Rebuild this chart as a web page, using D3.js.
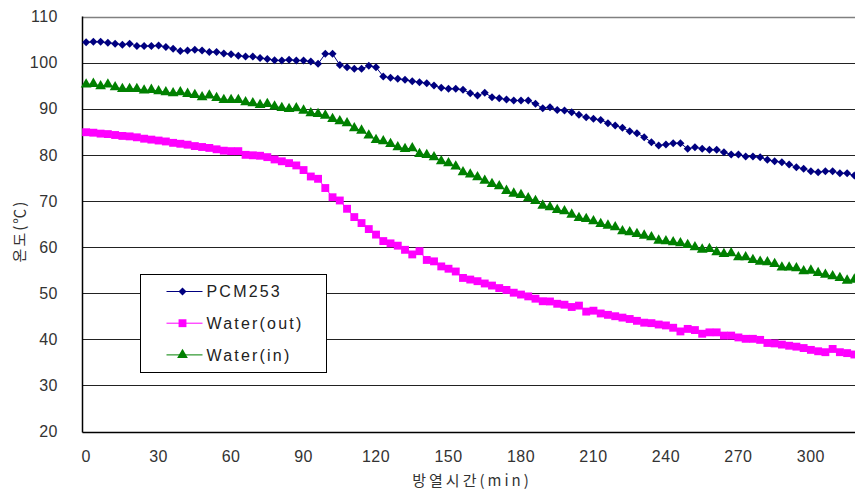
<!DOCTYPE html>
<html>
<head>
<meta charset="utf-8">
<script src="https://cdn.jsdelivr.net/npm/d3@7"></script>
<style>
  body { margin: 0; background: #fff; }
  svg { display: block; }
</style>
</head>
<body>
<div id="chart"></div>
<script>
// Cooling test: temperature of PCM and water vs time (every 3 min)

var seriesNames = ["PCM253", "Water(out)", "Water(in)"];
var seriesColors = ["#000080", "#ff00ff", "#008000"];
var yTicks = [20, 30, 40, 50, 60, 70, 80, 90, 100, 110];
var xTicks = [0, 30, 60, 90, 120, 150, 180, 210, 240, 270, 300];
var timeStep = 3;

var pcm253 = [
  104.4, 104.5, 104.5, 104.3, 104.1, 103.9, 104.1, 103.6, 103.6, 103.6,
  103.7, 103.4, 103.0, 102.5, 102.6, 102.8, 102.6, 102.3, 102.3, 102.0,
  101.8, 101.5, 101.3, 101.3, 101.0, 100.8, 100.5,
  100.46, 100.6, 100.46, 100.46, 100.24, 99.73, 101.9, 101.9, 99.5, 99.0,
  98.65, 98.65, 99.3, 99.0, 97.0, 96.7, 96.5, 96.26, 95.97, 95.75,
  95.54, 95.03, 94.53, 94.31, 94.31, 94.1, 93.37, 92.87, 93.45, 92.5,
  92.28, 92.0, 91.78, 91.78, 91.78, 91.06, 90.1, 90.33, 89.75,
  89.6, 89.25, 88.67, 88.16, 87.8, 87.58, 86.86, 86.36, 85.85, 85.13,
  84.7, 83.83, 82.74, 82.02, 82.23, 82.52, 82.52, 81.3, 81.66, 81.3,
  81.08, 81.08, 80.57, 80.07, 80.07, 79.63, 79.63, 79.49, 78.91, 78.62,
  78.4, 77.9, 77.32, 76.96, 76.45, 76.23, 76.45, 76.45, 76.0, 76.0, 75.5
];

var waterOut = [
  84.9, 84.8, 84.6, 84.5, 84.3, 84.1, 84.0, 83.8, 83.5, 83.3,
  83.1, 82.9, 82.6, 82.4, 82.2, 81.9, 81.7, 81.5, 81.2, 80.9,
  80.8, 80.8, 80.0, 79.9, 79.8, 79.5, 79.0, 78.6,
  78.2, 77.7, 76.7, 75.3, 74.8, 72.8, 70.8, 70.1, 68.3, 66.5,
  65.2, 63.9, 62.7, 61.3, 60.8, 60.3, 59.4, 58.4, 59.1, 57.2,
  56.9, 55.8, 55.3,
  54.7, 53.3, 52.95, 52.6, 52.1, 51.65, 51.1, 50.7, 50.1, 49.7,
  49.3, 48.8, 48.25, 48.2, 47.7, 47.5, 47.0, 47.3, 46.0, 46.2,
  45.6, 45.3, 45.0, 44.7, 44.4, 44.0, 43.6, 43.5, 43.2, 43.0,
  42.5, 41.7, 42.25, 42.0, 41.2, 41.5, 41.5, 40.8, 40.8, 40.4,
  40.1, 40.1, 39.87, 39.2, 39.1, 38.85, 38.6, 38.4, 38.1, 37.7,
  37.4, 37.2, 37.9, 37.2, 37.0, 36.7
];

var waterIn = [
  95.25, 95.4, 94.9, 95.25, 94.67, 94.3, 94.3, 94.3, 93.95, 94.1,
  93.8, 93.59, 93.37, 93.59, 93.23, 93.0, 92.5, 92.87, 92.35, 91.9,
  91.9, 91.9, 91.42, 91.2, 90.83, 91.06, 90.48,
  90.19, 89.97, 90.1, 89.6, 89.03, 88.89, 88.52, 87.8, 87.3, 86.86,
  85.78, 85.27, 84.19, 83.25, 82.96, 82.38, 81.66, 81.3, 81.44, 80.2,
  80.0, 79.49, 78.62, 78.19, 77.47, 76.23, 75.73, 75.15, 74.4, 73.7,
  73.2, 72.2, 71.6, 71.3, 70.6, 70.0, 69.0, 68.64, 68.06,
  67.78, 67.05, 66.33, 66.11, 65.6, 65.03, 64.66, 64.3, 63.43, 63.22,
  62.86, 62.5, 62.14, 61.41, 61.27, 61.05, 60.83, 60.47, 59.96, 59.46,
  59.6, 58.88, 58.52, 58.66, 57.8, 57.8, 57.2, 56.85, 56.7, 56.35,
  55.6, 55.6, 55.4, 54.76, 54.9, 54.4, 54.03, 53.67, 53.3, 52.73, 52.95
];

var allSeries = [pcm253, waterOut, waterIn];
// diamond = square turned 45 degrees
var symbolTypes = [d3.symbolSquare, d3.symbolSquare, d3.symbolTriangle];
var symbolSizes = [32, 62, 50];
var symbolRotate = [45, 0, 0];

var width = 855, height = 492;
var plot = { left: 82.5, top: 16.5, bottom: 431.5, right: 858 };

var latinFont = "'Liberation Sans', Arial, sans-serif";
var koreanFont = "'Noto Sans CJK KR', sans-serif";

var svg = d3.select("#chart").append("svg")
    .attr("width", width)
    .attr("height", height);

var x = d3.scaleLinear()
    .domain([-1.5, 319.5])
    .range([plot.left, plot.right]);

var y = d3.scaleLinear()
    .domain([20, 110])
    .range([plot.bottom, plot.top]);

// Grid lines
svg.append("g")
    .selectAll("line")
    .data(yTicks.filter(function(d) { return d > 20 && d < 110; }))
    .enter().append("line")
    .attr("x1", plot.left)
    .attr("x2", plot.right)
    .attr("y1", function(d) { return Math.round(y(d)) + 0.5; })
    .attr("y2", function(d) { return Math.round(y(d)) + 0.5; })
    .style("stroke", "#222")
    .style("stroke-width", 1);

// Top border
svg.append("line")
    .attr("x1", plot.left)
    .attr("x2", plot.right)
    .attr("y1", Math.round(y(110)) + 0.5)
    .attr("y2", Math.round(y(110)) + 0.5)
    .style("stroke", "#808080")
    .style("stroke-width", 1.5);

// Axes lines
svg.append("line")
    .attr("x1", plot.left)
    .attr("x2", plot.left)
    .attr("y1", y(110))
    .attr("y2", Math.round(y(20)) + 0.5)
    .style("stroke", "#000")
    .style("stroke-width", 1.5);

svg.append("line")
    .attr("x1", plot.left)
    .attr("x2", plot.right)
    .attr("y1", Math.round(y(20)) + 0.5)
    .attr("y2", Math.round(y(20)) + 0.5)
    .style("stroke", "#000")
    .style("stroke-width", 1.5);

// Y tick labels
svg.append("g")
    .selectAll("text")
    .data(yTicks)
    .enter().append("text")
    .attr("x", 58)
    .attr("y", function(d) { return y(d); })
    .attr("dy", "0.36em")
    .attr("text-anchor", "end")
    .style("font-family", latinFont)
    .style("font-size", "16px")
    .style("letter-spacing", "0.5px")
    .style("fill", "#333")
    .text(function(d) { return d; });

// X tick labels
svg.append("g")
    .selectAll("text")
    .data(xTicks)
    .enter().append("text")
    .attr("x", function(d) { return x(d); })
    .attr("y", 462)
    .attr("text-anchor", "middle")
    .style("font-family", latinFont)
    .style("font-size", "16px")
    .style("letter-spacing", "0.5px")
    .style("fill", "#333")
    .text(function(d) { return d; });

// Axis titles
svg.append("text")
    .attr("x", 472)
    .attr("y", 486)
    .attr("text-anchor", "middle")
    .style("font-family", koreanFont)
    .style("font-size", "15px")
    .style("letter-spacing", "3px")
    .style("fill", "#333")
    .text("방열시간(min)");

svg.append("text")
    .attr("transform", "translate(25,231) rotate(-90)")
    .attr("text-anchor", "middle")
    .style("font-family", koreanFont)
    .style("font-size", "15px")
    .style("letter-spacing", "2px")
    .style("fill", "#333")
    .text("온도(℃)");

// Series
var line = d3.line()
    .x(function(d, i) { return x(i * timeStep); })
    .y(function(d) { return y(d); });

var seriesG = svg.append("g")
    .selectAll("g")
    .data(allSeries)
    .enter().append("g");

seriesG.append("path")
    .attr("d", line)
    .style("fill", "none")
    .style("stroke", function(d, i) { return seriesColors[i]; })
    .style("stroke-width", 1);

seriesG.each(function(vals, si) {
  d3.select(this).selectAll("path.marker")
    .data(vals)
    .enter().append("path")
    .attr("class", "marker")
    .attr("d", d3.symbol().type(symbolTypes[si]).size(symbolSizes[si]))
    .attr("transform", function(d, i) {
      return "translate(" + x(i * timeStep) + "," + y(d) + ") rotate(" + symbolRotate[si] + ")";
    })
    .style("fill", seriesColors[si]);
});

// Legend
var legend = svg.append("g")
    .attr("transform", "translate(140.5,274.5)");

legend.append("rect")
    .attr("width", 186)
    .attr("height", 98)
    .style("fill", "#fff")
    .style("stroke", "#000")
    .style("stroke-width", 1);

var legendItem = legend.selectAll("g.item")
    .data(seriesNames)
    .enter().append("g")
    .attr("class", "item")
    .attr("transform", function(d, i) { return "translate(0," + (17 + i * 31.7) + ")"; });

legendItem.append("line")
    .attr("x1", 26)
    .attr("x2", 62)
    .style("stroke", function(d, i) { return seriesColors[i]; })
    .style("stroke-width", 1);

legendItem.append("path")
    .attr("d", function(d, i) { return d3.symbol().type(symbolTypes[i]).size(symbolSizes[i])(); })
    .attr("transform", function(d, i) { return "translate(42,0) rotate(" + symbolRotate[i] + ")"; })
    .style("fill", function(d, i) { return seriesColors[i]; });

legendItem.append("text")
    .attr("x", 66)
    .attr("dy", "0.36em")
    .style("font-family", latinFont)
    .style("font-size", "16px")
    .style("letter-spacing", "2.2px")
    .style("fill", "#222")
    .text(function(d) { return d; });
</script>
</body>
</html>
